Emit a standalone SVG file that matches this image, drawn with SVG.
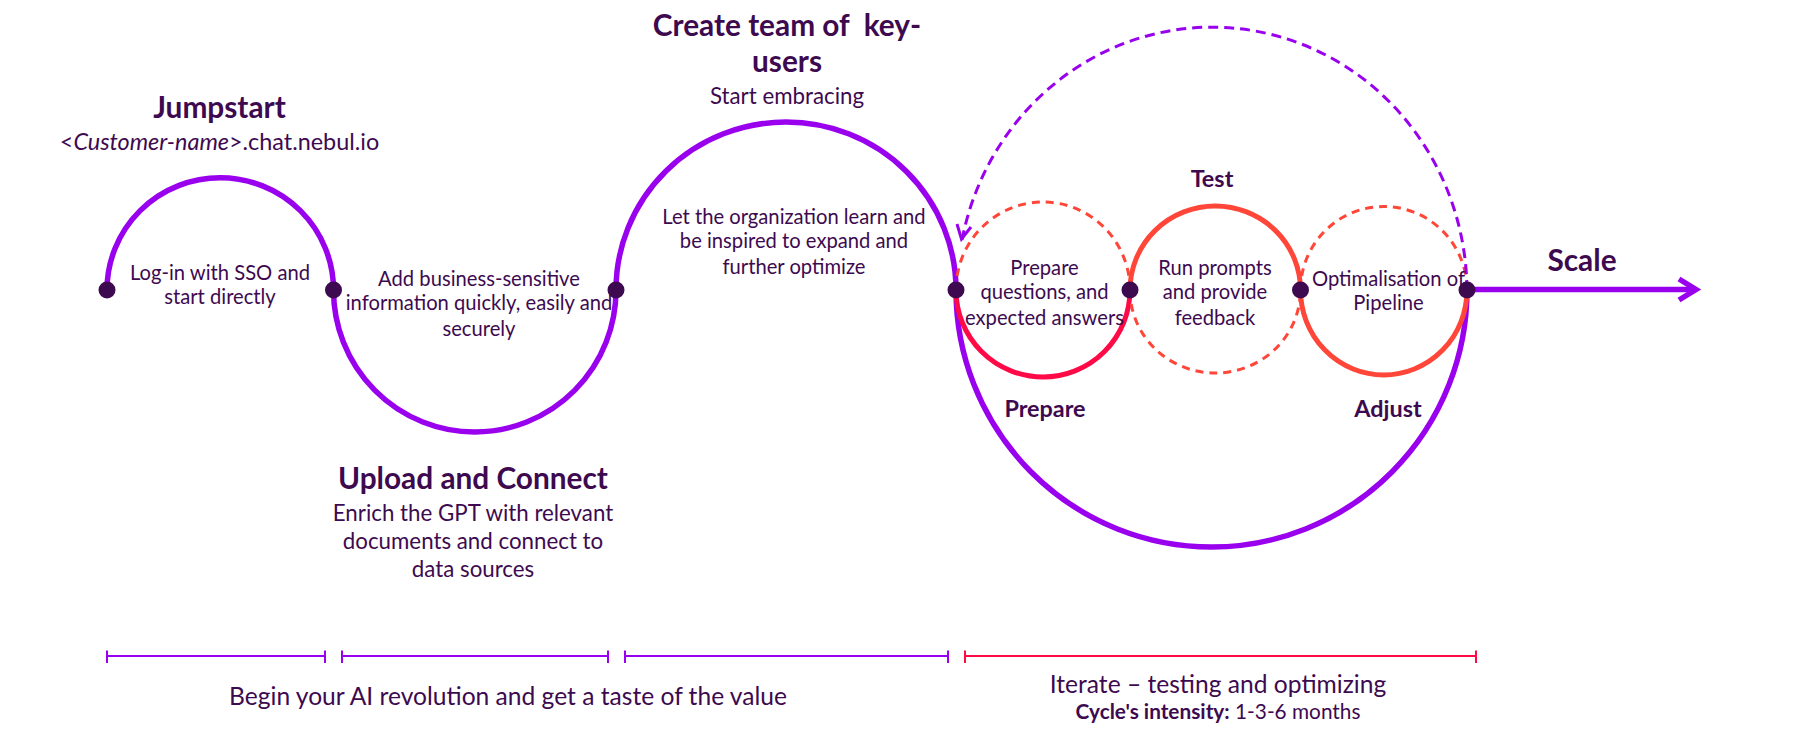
<svg xmlns="http://www.w3.org/2000/svg" width="1802" height="736" viewBox="0 0 1802 736">
<style>
text{font-family:"Lato","Liberation Sans",sans-serif;fill:#3d0a50;text-anchor:middle;font-size:20.2px;white-space:pre}
.h{font-weight:700;font-size:29.8px}
.m{font-weight:700;font-size:23.400px}
.s{font-size:22.300px}
.u{font-size:23.400px}
.b{font-size:24.600px}
.c{font-size:20.800px}
.arc{fill:none;stroke-linecap:butt}
.p{stroke:#9900ee;stroke-width:5.500}
.pd{stroke:#9900ee;stroke-width:3;stroke-dasharray:10 6}
.r{stroke:#ff0a46;stroke-width:5}
.o{stroke:#ff4638;stroke-width:5}
.od{stroke:#ff4638;stroke-width:3;stroke-dasharray:8 6}
.dot{fill:#3d0a50}
.br{fill:none;stroke-width:2}
</style>
<rect width="1802" height="736" fill="#ffffff"/>
<g id="connectors">
<path class="arc p" d="M107 290A113 112 0 0 1 333.500 290"/>
<path class="arc p" d="M333.500 290A141.250 142 0 0 0 616 290"/>
<path class="arc p" d="M616 290A170 168 0 0 1 956 290"/>
<path class="arc p" d="M956 290A255.500 257 0 0 0 1467 290"/>
<path class="arc od" d="M956 290A87 88 0 0 1 1130 290"/>
<path class="arc r" d="M956 290A87 87 0 0 0 1130 290"/>
<path class="arc o" d="M1130 290A85.250 84 0 0 1 1300.500 290"/>
<path class="arc od" d="M1130 290A85.250 83 0 0 0 1300.500 290"/>
<path class="arc od" d="M1300.500 290A83.250 83.500 0 0 1 1467 290"/>
<path class="arc o" d="M1300.500 290A83.250 85 0 0 0 1467 290"/>
<path class="arc pd" d="M1467 290A255 265 0 0 0 962 240"/>
<path class="arc" stroke="#9900ee" stroke-width="3" d="M957 224L961.500 239L971 227"/>
<path class="arc p" d="M1467 289.500H1695"/>
<path class="arc p" d="M1679 279L1696 289.500L1679 300"/>
<path class="br" stroke="#9900ee" d="M107 656H325M107 650.500V663M325 650.500V663"/>
<path class="br" stroke="#9900ee" d="M342 656H608M342 650.500V663M608 650.500V663"/>
<path class="br" stroke="#9900ee" d="M625 656H948M625 650.500V663M948 650.500V663"/>
<path class="br" stroke="#ff0a46" d="M965 656H1476M965 650.500V663M1476 650.500V663"/>
</g>
<g id="node-jumpstart">
<circle class="dot" cx="107" cy="290" r="8.500"/>
<text class="h" x="219.500" y="118">Jumpstart</text>
<text class="u" x="219.500" y="150">&lt;<tspan font-style="italic">Customer-name</tspan>&gt;.chat.nebul.io</text>
<text x="220" y="280">Log-in with SSO and</text>
<text x="220" y="304">start directly</text>
</g>
<g id="node-upload">
<circle class="dot" cx="333.500" cy="290" r="8.500"/>
<text x="479" y="286">Add business-sensitive</text>
<text x="479" y="310">information quickly, easily and</text>
<text x="479" y="336">securely</text>
<text class="h" x="473" y="489">Upload and Connect</text>
<text class="s" x="473" y="521">Enrich the GPT with relevant</text>
<text class="s" x="473" y="549">documents and connect to</text>
<text class="s" x="473" y="577">data sources</text>
</g>
<g id="node-team">
<circle class="dot" cx="616" cy="290" r="8.500"/>
<text class="h" x="787" y="36">Create team of  key-</text>
<text class="h" x="787" y="72">users</text>
<text class="s" x="787" y="104">Start embracing</text>
<text x="794" y="224">Let the organization learn and</text>
<text x="794" y="248">be inspired to expand and</text>
<text x="794" y="274">further optimize</text>
</g>
<g id="node-prepare">
<circle class="dot" cx="956" cy="290" r="8.500"/>
<text x="1044.500" y="275">Prepare</text>
<text x="1044.500" y="299">questions, and</text>
<text x="1044.500" y="325">expected answers</text>
<text class="m" x="1045" y="417">Prepare</text>
</g>
<g id="node-test">
<circle class="dot" cx="1130" cy="290" r="8.500"/>
<text class="m" x="1212" y="187">Test</text>
<text x="1215" y="275">Run prompts</text>
<text x="1215" y="299">and provide</text>
<text x="1215" y="325">feedback</text>
</g>
<g id="node-adjust">
<circle class="dot" cx="1300.500" cy="290" r="8.500"/>
<text x="1388.500" y="286">Optimalisation of</text>
<text x="1388.500" y="310">Pipeline</text>
<text class="m" x="1388" y="417">Adjust</text>
</g>
<g id="node-scale">
<circle class="dot" cx="1467" cy="290" r="8.500"/>
<text class="h" x="1582" y="271">Scale</text>
</g>
<g id="labels">
<text class="b" x="508" y="705">Begin your AI revolution and get a taste of the value</text>
<text class="b" x="1218" y="693">Iterate – testing and optimizing</text>
<text class="c" x="1218" y="719"><tspan font-weight="700">Cycle's intensity:</tspan> 1-3-6 months</text>
</g>
</svg>
